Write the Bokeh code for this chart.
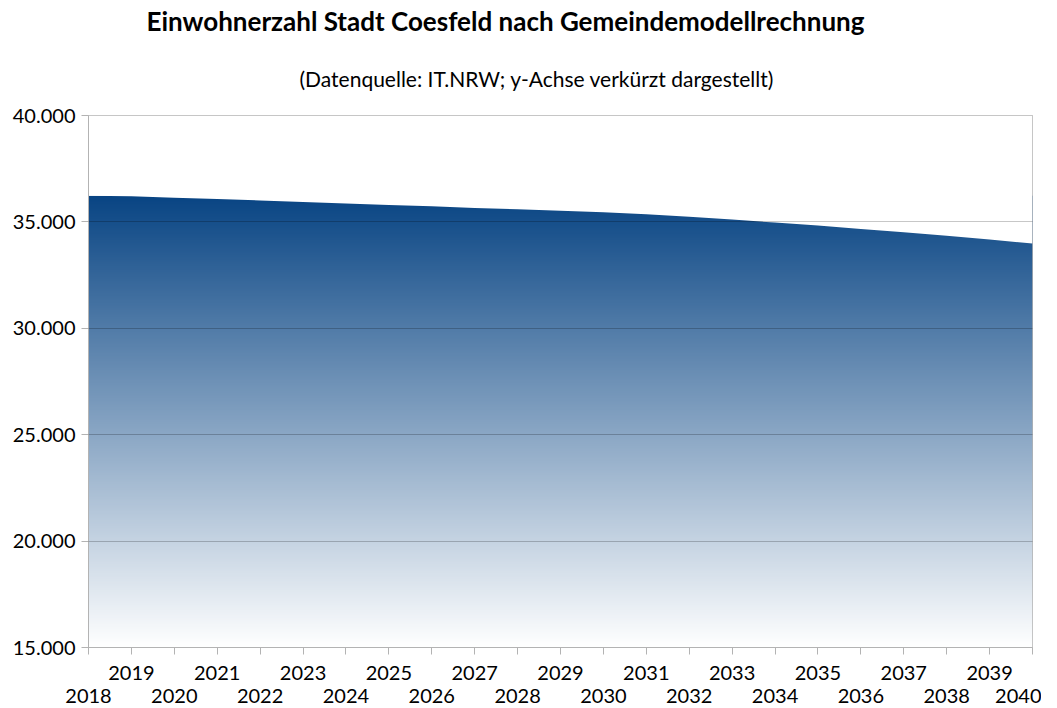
import numpy as np
from bokeh.plotting import figure
from bokeh.models import FixedTicker, LinearAxis, Title, Range1d
from bokeh.embed import file_html
from bokeh.resources import INLINE

# ---- data ----
years = list(range(2018, 2041))
population = [36230, 36200, 36140, 36080, 36010, 35930, 35870, 35790, 35730,
              35650, 35590, 35520, 35450, 35360, 35240, 35110, 34970, 34830,
              34670, 34510, 34350, 34170, 33980]
y_ticks = [15000, 20000, 25000, 30000, 35000, 40000]
y_tick_labels = ["15.000", "20.000", "25.000", "30.000", "35.000", "40.000"]
title_text = "Einwohnerzahl Stadt Coesfeld nach Gemeindemodellrechnung"
subtitle_text = "(Datenquelle: IT.NRW; y-Achse verkürzt dargestellt)"

FONT = "Lato"
GRAY = "#b3b3b3"
LABEL_SIZE = "20px"
y_min, y_max = y_ticks[0], y_ticks[-1]

p = figure(width=1041, height=706, output_backend="svg", toolbar_location=None,
           x_range=Range1d(years[0], years[-1]), y_range=Range1d(y_min, y_max),
           min_border_left=88, min_border_right=9, min_border_top=115,
           min_border_bottom=59, title=None)
p.outline_line_color = GRAY
p.background_fill_color = "white"
p.border_fill_color = "white"

# ---- gradient fill under the curve (image clipped by white mask) ----
top_val = max(population)
rows = 400
t = np.linspace(0.0, 1.0, rows)  # 0 = bottom, 1 = top
c_top = np.array([8, 68, 131])
c_bot = np.array([255, 255, 255])
img = np.zeros((rows, 2), dtype=np.uint32)
view = img.view(dtype=np.uint8).reshape((rows, 2, 4))
for i in range(rows):
    c = c_bot + (c_top - c_bot) * t[i]
    view[i, :, 0] = int(round(c[0]))
    view[i, :, 1] = int(round(c[1]))
    view[i, :, 2] = int(round(c[2]))
    view[i, :, 3] = 255
p.image_rgba(image=[img], x=years[0], y=y_min, dw=years[-1] - years[0],
             dh=top_val - y_min)
# white mask above the curve
p.varea(x=years, y1=population, y2=[y_max] * len(years), fill_color="white")

# ---- grid ----
p.xgrid.visible = False
p.ygrid.ticker = FixedTicker(ticks=y_ticks)
p.ygrid.grid_line_color = "black"
p.ygrid.grid_line_alpha = 0.22
p.ygrid.level = "annotation"

# ---- y axis ----
ya = p.yaxis[0]
ya.ticker = FixedTicker(ticks=y_ticks)
ya.major_label_overrides = {v: s for v, s in zip(y_ticks, y_tick_labels)}
ya.axis_line_color = GRAY
ya.major_tick_line_color = GRAY
ya.major_tick_out = 7
ya.major_tick_in = 0
ya.minor_tick_line_color = None
ya.major_label_text_font = FONT
ya.major_label_text_font_size = LABEL_SIZE
ya.major_label_text_color = "black"
ya.major_label_standoff = 6

# ---- x axes: odd years upper row, even years lower row ----
odd_years = [y for y in years if y % 2 == 1]
even_years = [y for y in years if y % 2 == 0]

xa = p.xaxis[0]
xa.ticker = FixedTicker(ticks=years)
xa.major_label_overrides = {y: (str(y) if y % 2 == 1 else " ") for y in years}
xa.axis_line_color = GRAY
xa.major_tick_line_color = GRAY
xa.major_tick_out = 7
xa.major_tick_in = 0
xa.minor_tick_line_color = None
xa.major_label_text_font = FONT
xa.major_label_text_font_size = LABEL_SIZE
xa.major_label_text_color = "black"
xa.major_label_standoff = 5

xb = LinearAxis(ticker=FixedTicker(ticks=even_years))
xb.major_label_overrides = {y: str(y) for y in even_years}
xb.axis_line_color = None
xb.major_tick_line_color = None
xb.major_tick_out = 0
xb.major_tick_in = 0
xb.minor_tick_line_color = None
xb.major_label_text_font = FONT
xb.major_label_text_font_size = LABEL_SIZE
xb.major_label_text_color = "black"
xb.major_label_standoff = 2
p.add_layout(xb, "below")

# ---- titles ----
sub = Title(text=subtitle_text, text_font=FONT, text_font_size="21px",
            text_font_style="normal", text_color="black", align="left",
            offset=211, standoff=50)
p.add_layout(sub, "above")
ttl = Title(text=title_text, text_font=FONT, text_font_size="26px",
            text_font_style="bold", text_color="black", align="left",
            offset=58, standoff=4)
p.add_layout(ttl, "above")

open("out.html", "w").write(file_html(p, INLINE))
